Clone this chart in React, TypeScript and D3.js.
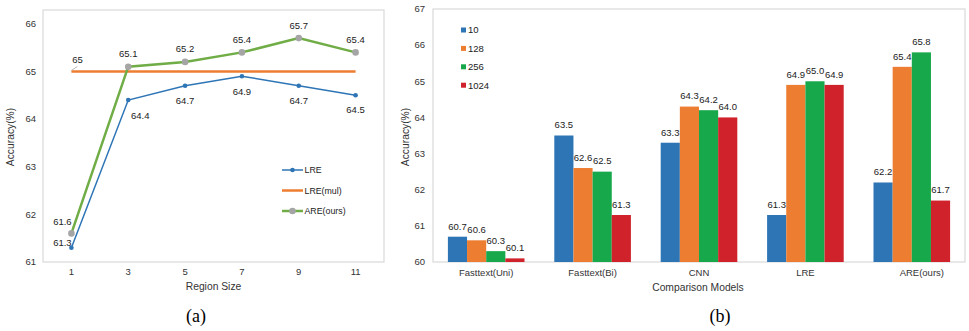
import React, { useRef, useEffect } from 'react';
import * as d3 from 'd3';

// (a) accuracy vs region size
const regionSizes = ['1', '3', '5', '7', '9', '11'];
const lreValues = [61.3, 64.4, 64.7, 64.9, 64.7, 64.5];
const lreMulValues = [65, 65, 65, 65, 65, 65];
const areValues = [61.6, 65.1, 65.2, 65.4, 65.7, 65.4];
const lineTicks = [61, 62, 63, 64, 65, 66];

// (b) accuracy by comparison model and embedding size
const models = ['Fasttext(Uni)', 'Fasttext(Bi)', 'CNN', 'LRE', 'ARE(ours)'];
const dims = ['10', '128', '256', '1024'];
const acc10 = [60.7, 63.5, 63.3, 61.3, 62.2];
const acc128 = [60.6, 62.6, 64.3, 64.9, 65.4];
const acc256 = [60.3, 62.5, 64.2, 65.0, 65.8];
const acc1024 = [60.1, 61.3, 64.0, 64.9, 61.7];
const barTicks = [60, 61, 62, 63, 64, 65, 66, 67];

const FONT = '"Liberation Sans", Arial, sans-serif';
const TICK = `9.5px ${FONT}`;
const TITLE = `10.3px ${FONT}`;

const App = () => {
    const chartRef = useRef<SVGSVGElement>(null);

    useEffect(() => {
        const svg = d3.select(chartRef.current);
        svg.selectAll('*').remove();

        // ---------- chart (a) ----------
        const a = { left: 43, right: 384, top: 10, bottom: 262 };
        const xa = d3.scalePoint().domain(regionSizes).range([a.left, a.right]).padding(0.5);
        const ya = d3.scaleLinear().domain([61, 66]).range([262, 23.8]);

        svg.append('rect')
            .attr('x', a.left).attr('y', a.top)
            .attr('width', a.right - a.left).attr('height', a.bottom - a.top)
            .attr('fill', 'none').attr('stroke', '#d9d9d9').attr('stroke-width', 1.2);

        svg.append('g').selectAll('text').data(lineTicks).enter().append('text')
            .attr('x', 36).attr('y', d => ya(d)).attr('dy', '0.35em')
            .attr('text-anchor', 'end').style('font', TICK).attr('fill', '#333')
            .text(d => d);

        svg.append('g').selectAll('text').data(regionSizes).enter().append('text')
            .attr('x', d => xa(d)!).attr('y', 275)
            .attr('text-anchor', 'middle').style('font', TICK).attr('fill', '#333')
            .text(d => d);

        svg.append('text')
            .attr('x', (a.left + a.right) / 2).attr('y', 290)
            .attr('text-anchor', 'middle').style('font', TITLE).attr('fill', '#333')
            .text('Region Size');

        svg.append('text')
            .attr('transform', `translate(14,137) rotate(-90)`)
            .attr('text-anchor', 'middle').style('font', TITLE).attr('fill', '#333')
            .text('Accuracy(%)');

        const line = d3.line<number>()
            .x((_, i) => xa(regionSizes[i])!)
            .y(d => ya(d));

        svg.append('path').datum(lreMulValues).attr('d', line)
            .attr('fill', 'none').attr('stroke', '#ed7d31').attr('stroke-width', 2.5);
        svg.append('path').datum(lreValues).attr('d', line)
            .attr('fill', 'none').attr('stroke', '#2e75b6').attr('stroke-width', 1.5);
        svg.append('path').datum(areValues).attr('d', line)
            .attr('fill', 'none').attr('stroke', '#70ad47').attr('stroke-width', 2.5);

        svg.append('g').selectAll('circle').data(lreValues).enter().append('circle')
            .attr('cx', (_, i) => xa(regionSizes[i])!).attr('cy', d => ya(d))
            .attr('r', 2.3).attr('fill', '#2e75b6');
        svg.append('g').selectAll('circle').data(areValues).enter().append('circle')
            .attr('cx', (_, i) => xa(regionSizes[i])!).attr('cy', d => ya(d))
            .attr('r', 3.3).attr('fill', '#a5a5a5');

        // data labels
        const lreOffsets = [[-9, -5], [12, 16], [0, 15], [0, 15], [0, 15], [0, 14]];
        svg.append('g').selectAll('text').data(lreValues).enter().append('text')
            .attr('x', (_, i) => xa(regionSizes[i])! + lreOffsets[i][0])
            .attr('y', (d, i) => ya(d) + lreOffsets[i][1]).attr('dy', '0.35em')
            .attr('text-anchor', 'middle').style('font', TICK).attr('fill', '#222')
            .text(d => d.toFixed(1));
        const areOffsets = [[-9, -12], [0, -13], [0, -13], [0, -13], [0, -12], [0, -13]];
        svg.append('g').selectAll('text').data(areValues).enter().append('text')
            .attr('x', (_, i) => xa(regionSizes[i])! + areOffsets[i][0])
            .attr('y', (d, i) => ya(d) + areOffsets[i][1]).attr('dy', '0.35em')
            .attr('text-anchor', 'middle').style('font', TICK).attr('fill', '#222')
            .text(d => d.toFixed(1));

        const mx = xa(regionSizes[0])!, my = ya(lreMulValues[0]);
        svg.append('line')
            .attr('x1', mx).attr('y1', my - 1).attr('x2', mx + 6).attr('y2', my - 5)
            .attr('stroke', '#a6a6a6').attr('stroke-width', 0.8);
        svg.append('text')
            .attr('x', mx + 6).attr('y', my - 12).attr('dy', '0.35em')
            .attr('text-anchor', 'middle').style('font', TICK).attr('fill', '#222')
            .text(String(lreMulValues[0]));

        // legend (a)
        const legendA = [
            { name: 'LRE', color: '#2e75b6', width: 1.5, marker: '#2e75b6', r: 2.3 },
            { name: 'LRE(mul)', color: '#ed7d31', width: 2.5, marker: null, r: 0 },
            { name: 'ARE(ours)', color: '#70ad47', width: 2.5, marker: '#a5a5a5', r: 3.3 },
        ];
        const la = svg.append('g').selectAll('g').data(legendA).enter().append('g')
            .attr('transform', (_, i) => `translate(282,${170 + i * 20.5})`);
        la.append('line').attr('x1', 0).attr('x2', 21).attr('y1', 0).attr('y2', 0)
            .attr('stroke', d => d.color).attr('stroke-width', d => d.width);
        la.filter(d => d.marker !== null).append('circle')
            .attr('cx', 10.5).attr('cy', 0).attr('r', d => d.r).attr('fill', d => d.marker!);
        la.append('text').attr('x', 22.5).attr('y', 0).attr('dy', '0.35em')
            .style('font', `8.8px ${FONT}`).attr('fill', '#222').text(d => d.name);

        // ---------- chart (b) ----------
        const b = { left: 433, right: 965, top: 9, bottom: 262 };
        const xb = d3.scaleBand().domain(models).range([b.left, b.right])
            .paddingInner(0.28).paddingOuter(0.14);
        const xs = d3.scaleBand().domain(dims).range([0, xb.bandwidth()]);
        const yb = d3.scaleLinear().domain([60, 67]).range([b.bottom, b.top]);
        const colors = d3.scaleOrdinal<string, string>().domain(dims)
            .range(['#2e75b6', '#ed7d31', '#16a84a', '#d0222a']);
        const series = [acc10, acc128, acc256, acc1024];

        svg.append('rect')
            .attr('x', b.left).attr('y', b.top)
            .attr('width', b.right - b.left).attr('height', b.bottom - b.top)
            .attr('fill', 'none').attr('stroke', '#d9d9d9').attr('stroke-width', 1.2);

        svg.append('g').selectAll('text').data(barTicks).enter().append('text')
            .attr('x', 425).attr('y', d => yb(d)).attr('dy', '0.35em')
            .attr('text-anchor', 'end').style('font', TICK).attr('fill', '#333')
            .text(d => d);

        svg.append('g').selectAll('text').data(models).enter().append('text')
            .attr('x', (d, i) => xb(d)! + xb.bandwidth() / 2 + (i === models.length - 1 ? 10 : 0))
            .attr('y', 276)
            .attr('text-anchor', 'middle').style('font', TICK).attr('fill', '#333')
            .text(d => d);

        svg.append('text')
            .attr('x', 698).attr('y', 291)
            .attr('text-anchor', 'middle').style('font', TITLE).attr('fill', '#333')
            .text('Comparison Models');

        svg.append('text')
            .attr('transform', `translate(409,137) rotate(-90)`)
            .attr('text-anchor', 'middle').style('font', TITLE).attr('fill', '#333')
            .text('Accuracy(%)');

        const cells = models.flatMap((m, mi) => dims.map((d, di) => ({ m, d, v: series[di][mi] })));

        svg.append('g').selectAll('rect').data(cells).enter().append('rect')
            .attr('x', c => xb(c.m)! + xs(c.d)!)
            .attr('y', c => yb(c.v))
            .attr('width', xs.bandwidth())
            .attr('height', c => yb(60) - yb(c.v))
            .attr('fill', c => colors(c.d));

        svg.append('g').selectAll('text').data(cells).enter().append('text')
            .attr('x', c => xb(c.m)! + xs(c.d)! + xs.bandwidth() / 2)
            .attr('y', c => yb(c.v) - 10.5).attr('dy', '0.35em')
            .attr('text-anchor', 'middle').style('font', TICK).attr('fill', '#222')
            .text(c => c.v.toFixed(1));

        // legend (b)
        const lb = svg.append('g').selectAll('g').data(dims).enter().append('g')
            .attr('transform', (_, i) => `translate(461,${30 + i * 18.4})`);
        lb.append('rect').attr('x', 0).attr('y', -2.5).attr('width', 5).attr('height', 5)
            .attr('fill', d => colors(d));
        lb.append('text').attr('x', 7).attr('y', 0).attr('dy', '0.35em')
            .style('font', TICK).attr('fill', '#222').text(d => d);

        // captions
        svg.append('text').attr('x', 196).attr('y', 322).attr('text-anchor', 'middle')
            .style('font', '18px "Liberation Serif", "Times New Roman", serif').text('(a)');
        svg.append('text').attr('x', 720).attr('y', 322).attr('text-anchor', 'middle')
            .style('font', '18px "Liberation Serif", "Times New Roman", serif').text('(b)');
    }, []);

    return (
        <svg
            ref={chartRef}
            width={969}
            height={331}
            style={{ position: 'absolute', left: 0, top: 0, background: '#fff' }}
        />
    );
};

export default App;
